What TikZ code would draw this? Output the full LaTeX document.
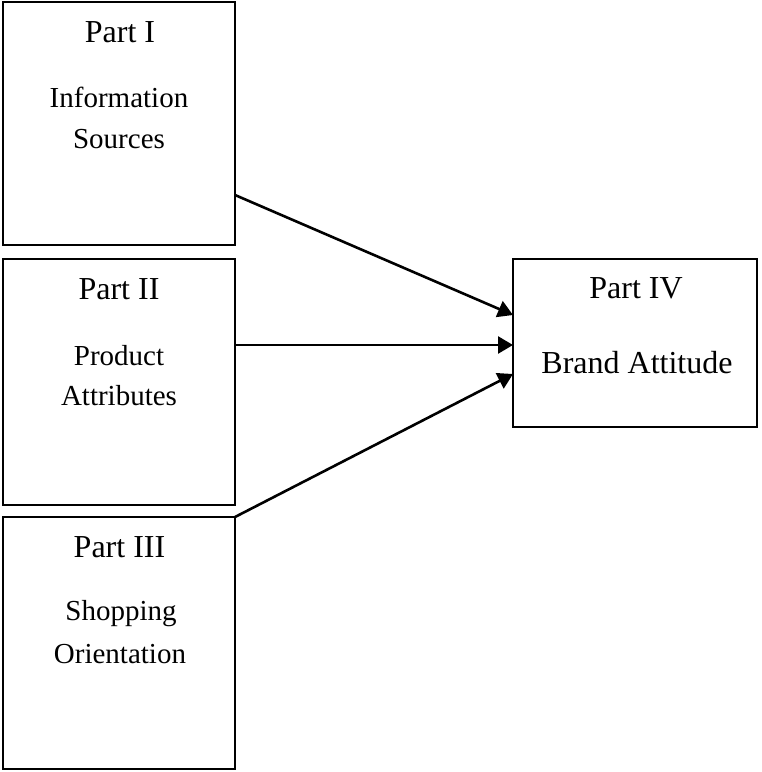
\documentclass[tikz,border=0pt]{standalone}
\usepackage{fontspec}
\setmainfont{Liberation Serif}
\usetikzlibrary{arrows.meta,calc}

\tikzset{
  partbox/.style={draw=black, line width=2.6pt, rectangle, inner sep=0pt, outer sep=0pt},
  head/.style={anchor=base, inner sep=0pt, font=\fontsize{32}{38}\selectfont},
  body/.style={anchor=base, inner sep=0pt, font=\fontsize{29}{34}\selectfont},
  link/.style={line width=2.6pt, -{Triangle[length=15pt,width=17pt]}}
}

\begin{document}
\begin{tikzpicture}[x=1pt, y=-1pt]
  \useasboundingbox (0,0) rectangle (762,772);

  % four boxes
  \node[partbox, minimum width=232pt, minimum height=243pt] (info)  at (119,123.5) {};
  \node[partbox, minimum width=232pt, minimum height=246pt] (prod)  at (119,382) {};
  \node[partbox, minimum width=232pt, minimum height=252pt] (shop)  at (119,643) {};
  \node[partbox, minimum width=244pt, minimum height=168pt] (brand) at (635,343) {};

  % labels
  \node[head] (infoT)  at (120,42)  {Part I};
  \node[body] (infoA)  at (119,107) {Information};
  \node[body] (infoB)  at (119,148) {Sources};

  \node[head] (prodT)  at (119,299) {Part II};
  \node[body] (prodA)  at (119,365) {Product};
  \node[body] (prodB)  at (119,405) {Attributes};

  \node[head] (shopT)  at (119.5,557) {Part III};
  \node[body] (shopA)  at (121,620) {Shopping};
  \node[body] (shopB)  at (120,663) {Orientation};

  \node[head] (brandT) at (636,298) {Part IV};
  \node[head] (brandA) at (637,373) {Brand Attitude};

  % connectors
  \draw[link] ($(info.east)+(0,71.5)$) -- ($(brand.west)+(0,-28)$);
  \draw[link] ($(prod.east)+(0,-37)$) -- ($(brand.west)+(0,2)$);
  \draw[link] (shop.north east) -- ($(brand.west)+(0,31)$);
\end{tikzpicture}
\end{document}
